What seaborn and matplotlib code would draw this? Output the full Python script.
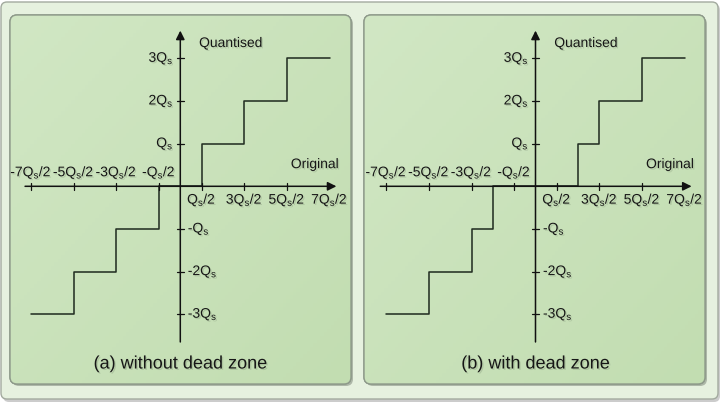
import numpy as np
import pandas as pd
import matplotlib
matplotlib.use("Agg")
import matplotlib.pyplot as plt
import matplotlib.patheffects as pe
from matplotlib.patches import FancyBboxPatch
from matplotlib.colors import LinearSegmentedColormap
import seaborn as sns

sns.set_theme(style="white")
plt.rcParams['font.family'] = ['Liberation Sans', 'DejaVu Sans']
plt.rcParams['mathtext.fontset'] = 'custom'
plt.rcParams['mathtext.rm'] = 'Liberation Sans'
plt.rcParams['mathtext.it'] = 'Liberation Sans'
plt.rcParams['mathtext.default'] = 'rm'

# ---- data (in units of Qs) ----
x_a = [-3.5, -2.5, -1.5, -0.5, 0.5, 1.5, 2.5, 3.5]
y_a = [-3, -2, -1, 0, 1, 2, 3, 3]
x_b = [-3.5, -2.5, -1.5, -1.0, 1.0, 1.5, 2.5, 3.5]
y_b = [-3, -2, -1, 0, 1, 2, 3, 3]

xtick_neg = [-3.5, -2.5, -1.5, -0.5]
xtick_neg_labels = [r'-7Q$_s$/2', r'-5Q$_s$/2', r'-3Q$_s$/2', r'-Q$_s$/2']
xtick_pos = [0.5, 1.5, 2.5, 3.5]
xtick_pos_labels = [r'Q$_s$/2', r'3Q$_s$/2', r'5Q$_s$/2', r'7Q$_s$/2']
ytick_pos = [1, 2, 3]
ytick_pos_labels = [r'Q$_s$', r'2Q$_s$', r'3Q$_s$']
ytick_neg = [-1, -2, -3]
ytick_neg_labels = [r'-Q$_s$', r'-2Q$_s$', r'-3Q$_s$']
captions = ['(a) without dead zone', '(b) with dead zone']

W, H = 725, 406
fig = plt.figure(figsize=(W / 100, H / 100), dpi=100)
fig.patch.set_facecolor('white')

bg = fig.add_axes([0, 0, 1, 1])
bg.axis('off')

# outer frame with shadow
bg.add_patch(FancyBboxPatch((3, 5), 717, 398, boxstyle='round,pad=0,rounding_size=6',
                            fc='#9a9a9a', ec='none', alpha=0.5, zorder=0))
bg.add_patch(FancyBboxPatch((1, 3), 717, 397, boxstyle='round,pad=0,rounding_size=6',
                            fc='#e6f1df', ec='#a3aa9f', lw=1.0, zorder=1))

panels = [(10, 16), (364, 16)]
pw, ph = 341, 369
grad = np.linspace(0, 1, 100).reshape(-1, 1) * np.ones((1, 100))
grad = (grad + np.linspace(0, 1, 100).reshape(1, -1)) / 2
cmap = LinearSegmentedColormap.from_list('g', ['#d1e7c4', '#c2ddb1'])
for (px, py) in panels:
    bg.add_patch(FancyBboxPatch((px + 2, py + 2), pw, ph, boxstyle='round,pad=0,rounding_size=7',
                                fc='#7f887b', ec='none', alpha=0.55, zorder=2))
    p = FancyBboxPatch((px, py), pw, ph, boxstyle='round,pad=0,rounding_size=7',
                       fc='#c9e2ba', ec='#8e9a8a', lw=1.0, zorder=3)
    bg.add_patch(p)
    im = bg.imshow(grad, extent=(px, px + pw, py + ph, py), cmap=cmap, aspect='auto', zorder=3.5)
    im.set_clip_path(p)
    bg.add_patch(FancyBboxPatch((px, py), pw, ph, boxstyle='round,pad=0,rounding_size=7',
                                fc='none', ec='#8e9a8a', lw=1.0, zorder=4))
bg.set_xlim(0, W)
bg.set_ylim(H, 0)

txt_col = '#161616'
shadow = [pe.withSimplePatchShadow(offset=(1, -1), shadow_rgbFace='#5f6f58', alpha=0.22)]

scale = 42.65
origins = [(180.3, 187.3), (535.5, 187.3)]
datasets = [(x_a, y_a), (x_b, y_b)]
lim = 4.0

for i, ((ox, oy), (xs, ys)) in enumerate(zip(origins, datasets)):
    left = ox - lim * scale
    top = oy - lim * scale
    size = 2 * lim * scale
    ax = fig.add_axes([left / W, (H - top - size) / H, size / W, size / H])
    ax.set_xlim(-lim, lim)
    ax.set_ylim(-lim, lim)
    ax.axis('off')
    ax.patch.set_alpha(0)

    df = pd.DataFrame({'x': xs, 'y': ys})
    sns.lineplot(data=df, x='x', y='y', ax=ax, drawstyle='steps-post', estimator=None,
                 sort=False, color='#243024', lw=1.15, zorder=3, legend=False)

    # axes with arrows
    ax.annotate('', xy=(3.66, 0), xytext=(-3.64, 0),
                arrowprops=dict(arrowstyle='-|>', lw=1.1, color='#111111',
                                mutation_scale=13, shrinkA=0, shrinkB=0), zorder=4)
    ax.annotate('', xy=(0, 3.65), xytext=(0, -3.65),
                arrowprops=dict(arrowstyle='-|>', lw=1.1, color='#111111',
                                mutation_scale=13, shrinkA=0, shrinkB=0), zorder=4)
    # tick marks
    tx = 3.5 / scale
    for xv in xtick_neg + xtick_pos[:-1]:
        ax.plot([xv, xv], [-tx, tx], color='#111111', lw=0.9, zorder=4)
    for yv in ytick_pos + ytick_neg:
        ax.plot([-tx, tx], [yv, yv], color='#111111', lw=0.9, zorder=4)

    fs = 10
    for xv, lab in zip(xtick_neg, xtick_neg_labels):
        ax.text(xv, 14 / scale, lab, ha='center', va='center', fontsize=fs, color=txt_col,
                path_effects=shadow)
    for xv, lab in zip(xtick_pos, xtick_pos_labels):
        ax.text(xv, -13.4 / scale, lab, ha='center', va='center', fontsize=fs, color=txt_col,
                path_effects=shadow)
    for yv, lab in zip(ytick_pos, ytick_pos_labels):
        ax.text(-6.5 / scale, yv, lab, ha='right', va='center', fontsize=fs, color=txt_col,
                path_effects=shadow)
    for yv, lab in zip(ytick_neg, ytick_neg_labels):
        ax.text(7.5 / scale, yv, lab, ha='left', va='center', fontsize=fs, color=txt_col,
                path_effects=shadow)

    ax.text(0.44, 3.36, 'Quantised', ha='left', va='center', fontsize=fs, color=txt_col,
            path_effects=shadow)
    ax.text(3.72, 0.52, 'Original', ha='right', va='center', fontsize=fs, color=txt_col,
            path_effects=shadow)
    ax.text(0, -(365 - oy) / scale, captions[i], ha='center', va='center', fontsize=13,
            color=txt_col, path_effects=shadow, clip_on=False)

fig.savefig('out.png', dpi=100)
